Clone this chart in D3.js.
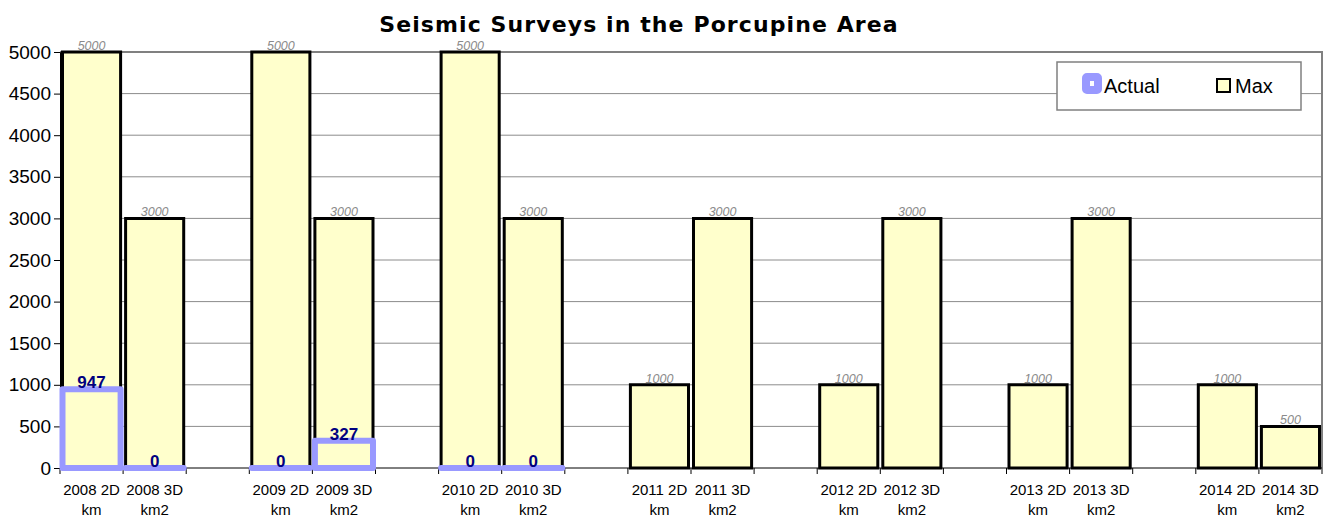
<!DOCTYPE html>
<html>
<head>
<meta charset="utf-8">
<script src="https://cdn.jsdelivr.net/npm/d3@7"></script>
<style>
  body { margin: 0; background: #fff; }
  text { font-family: "Liberation Sans", Arial, sans-serif; }
</style>
</head>
<body>
<div class="box"></div>
<script>
// données
const categories = ['2008 2D km', '2008 3D km2', '',
                    '2009 2D km', '2009 3D km2', '',
                    '2010 2D km', '2010 3D km2', '',
                    '2011 2D km', '2011 3D km2', '',
                    '2012 2D km', '2012 3D km2', '',
                    '2013 2D km', '2013 3D km2', '',
                    '2014 2D km', '2014 3D km2'];

const maxValues = [5000, 3000, null,
                   5000, 3000, null,
                   5000, 3000, null,
                   1000, 3000, null,
                   1000, 3000, null,
                   1000, 3000, null,
                   1000, 500];

const actualValues = [947, 0, null,
                      0, 327, null,
                      0, 0, null,
                      null, null, null,
                      null, null, null,
                      null, null, null,
                      null, null];

const yTicks = d3.range(0, 5001, 500);

//mise en place
const dims = {width: 1334, height: 518, left: 60, right: 1322, top: 52, bottom: 468};

const svg = d3.select('.box')
              .append('svg')
              .attr('width', dims.width)
              .attr('height', dims.height);

const x = d3.scaleBand()
            .domain(d3.range(categories.length))
            .range([dims.left, dims.right])
            .padding(0);

const y = d3.scaleLinear()
            .domain([0, 5000])
            .range([dims.bottom, dims.top]);

// rectangle en path (pour que les barres à 0 restent visibles)
const barPath = (x0, w, v) => {
    const y0 = y(0), y1 = y(v);
    return `M${x0},${y0}V${y1}H${x0 + w}V${y0}Z`;
};

//////////////////grille///////////////////////
svg.append('g')
   .selectAll('line')
   .data(yTicks.filter(t => t > 0))
   .enter()
   .append('line')
   .attr('x1', dims.left)
   .attr('x2', dims.right)
   .attr('y1', d => y(d))
   .attr('y2', d => y(d))
   .attr('stroke', '#8c8c8c')
   .attr('stroke-width', 1);

// bord du cadre (haut + droite)
svg.append('path')
   .attr('d', `M${dims.left},${dims.top}H${dims.right}V${dims.bottom}`)
   .attr('fill', 'none')
   .attr('stroke', '#808080')
   .attr('stroke-width', 2);

//////////////////axes///////////////////////
const yAxis = d3.axisLeft(y)
                .tickValues(yTicks)
                .tickFormat(d3.format('d'))
                .tickSize(6)
                .tickPadding(3);

const gy = svg.append('g')
              .attr('transform', `translate(${dims.left},0)`)
              .call(yAxis);
gy.select('.domain').attr('stroke', '#000');
gy.selectAll('.tick line').attr('stroke', '#000');
gy.selectAll('text')
  .attr('font-size', 19)
  .attr('fill', '#000')
  .style('font-family', '"Liberation Sans", Arial, sans-serif');

// axe x : traits aux limites des catégories
const gx = svg.append('g');
gx.append('line')
  .attr('x1', dims.left).attr('x2', dims.right)
  .attr('y1', dims.bottom).attr('y2', dims.bottom)
  .attr('stroke', '#000');
gx.selectAll('line.tk')
  .data(d3.range(categories.length + 1))
  .enter()
  .append('line')
  .attr('class', 'tk')
  .attr('x1', i => dims.left + i * x.step())
  .attr('x2', i => dims.left + i * x.step())
  .attr('y1', dims.bottom)
  .attr('y2', dims.bottom + 6)
  .attr('stroke', '#000');

const xLabels = gx.selectAll('text')
  .data(categories.map((c, i) => ({c, i})).filter(d => d.c !== ''))
  .enter()
  .append('text')
  .attr('text-anchor', 'middle')
  .attr('font-size', 15)
  .attr('fill', '#000');
xLabels.append('tspan')
  .attr('x', d => x(d.i) + x.bandwidth() / 2)
  .attr('y', 495)
  .text(d => d.c.split(' ').slice(0, 2).join(' '));
xLabels.append('tspan')
  .attr('x', d => x(d.i) + x.bandwidth() / 2)
  .attr('y', 515)
  .text(d => d.c.split(' ')[2]);

//////////////////barres///////////////////////
const inset = 2.5;

const maxData = maxValues.map((v, i) => ({v, i})).filter(d => d.v !== null);
const actData = actualValues.map((v, i) => ({v, i})).filter(d => d.v !== null);

svg.append('g')
   .selectAll('path')
   .data(maxData)
   .enter()
   .append('path')
   .attr('d', d => barPath(x(d.i) + inset, x.bandwidth() - inset * 2, d.v))
   .attr('fill', '#ffffcc')
   .attr('stroke', '#000')
   .attr('stroke-width', 3);

svg.append('g')
   .selectAll('text')
   .data(maxData)
   .enter()
   .append('text')
   .attr('x', d => x(d.i) + x.bandwidth() / 2)
   .attr('y', d => y(d.v) - 2)
   .attr('text-anchor', 'middle')
   .attr('font-size', 12.5)
   .attr('font-style', 'italic')
   .attr('fill', '#8a8a8a')
   .text(d => d.v);

svg.append('g')
   .selectAll('path')
   .data(actData)
   .enter()
   .append('path')
   .attr('d', d => barPath(x(d.i) + inset, x.bandwidth() - inset * 2, d.v))
   .attr('fill', '#ffffcc')
   .attr('stroke', '#9999ff')
   .attr('stroke-width', 6)
   .attr('stroke-linejoin', 'round');

svg.append('g')
   .selectAll('text')
   .data(actData)
   .enter()
   .append('text')
   .attr('x', d => x(d.i) + x.bandwidth() / 2)
   .attr('y', d => y(d.v) - 1)
   .attr('text-anchor', 'middle')
   .attr('font-size', 17)
   .attr('font-weight', 'bold')
   .attr('fill', '#000080')
   .text(d => d.v);

//////////////////titre///////////////////////
svg.append('text')
   .attr('x', 639)
   .attr('y', 32)
   .attr('text-anchor', 'middle')
   .attr('font-size', 22)
   .attr('font-weight', 'bold')
   .attr('letter-spacing', 1.1)
   .attr('fill', '#000')
   .style('font-family', '"DejaVu Sans", Verdana, sans-serif')
   .text('Seismic Surveys in the Porcupine Area');

//////////////////legende///////////////////////
const leg = svg.append('g');
leg.append('rect')
   .attr('x', 1057).attr('y', 62)
   .attr('width', 244).attr('height', 48)
   .attr('fill', '#fff')
   .attr('stroke', '#808080')
   .attr('stroke-width', 1.5);

leg.append('rect')
   .attr('x', 1086).attr('y', 77)
   .attr('width', 12).attr('height', 13)
   .attr('rx', 1)
   .attr('fill', '#fff')
   .attr('stroke', '#9999ff')
   .attr('stroke-width', 8)
   .attr('stroke-linejoin', 'round');
leg.append('text')
   .attr('x', 1104).attr('y', 93)
   .attr('font-size', 20)
   .attr('fill', '#000')
   .text('Actual');

leg.append('rect')
   .attr('x', 1217).attr('y', 79)
   .attr('width', 13).attr('height', 13)
   .attr('fill', '#ffffcc')
   .attr('stroke', '#000')
   .attr('stroke-width', 2);
leg.append('text')
   .attr('x', 1235).attr('y', 93)
   .attr('font-size', 20)
   .attr('fill', '#000')
   .text('Max');
</script>
</body>
</html>
